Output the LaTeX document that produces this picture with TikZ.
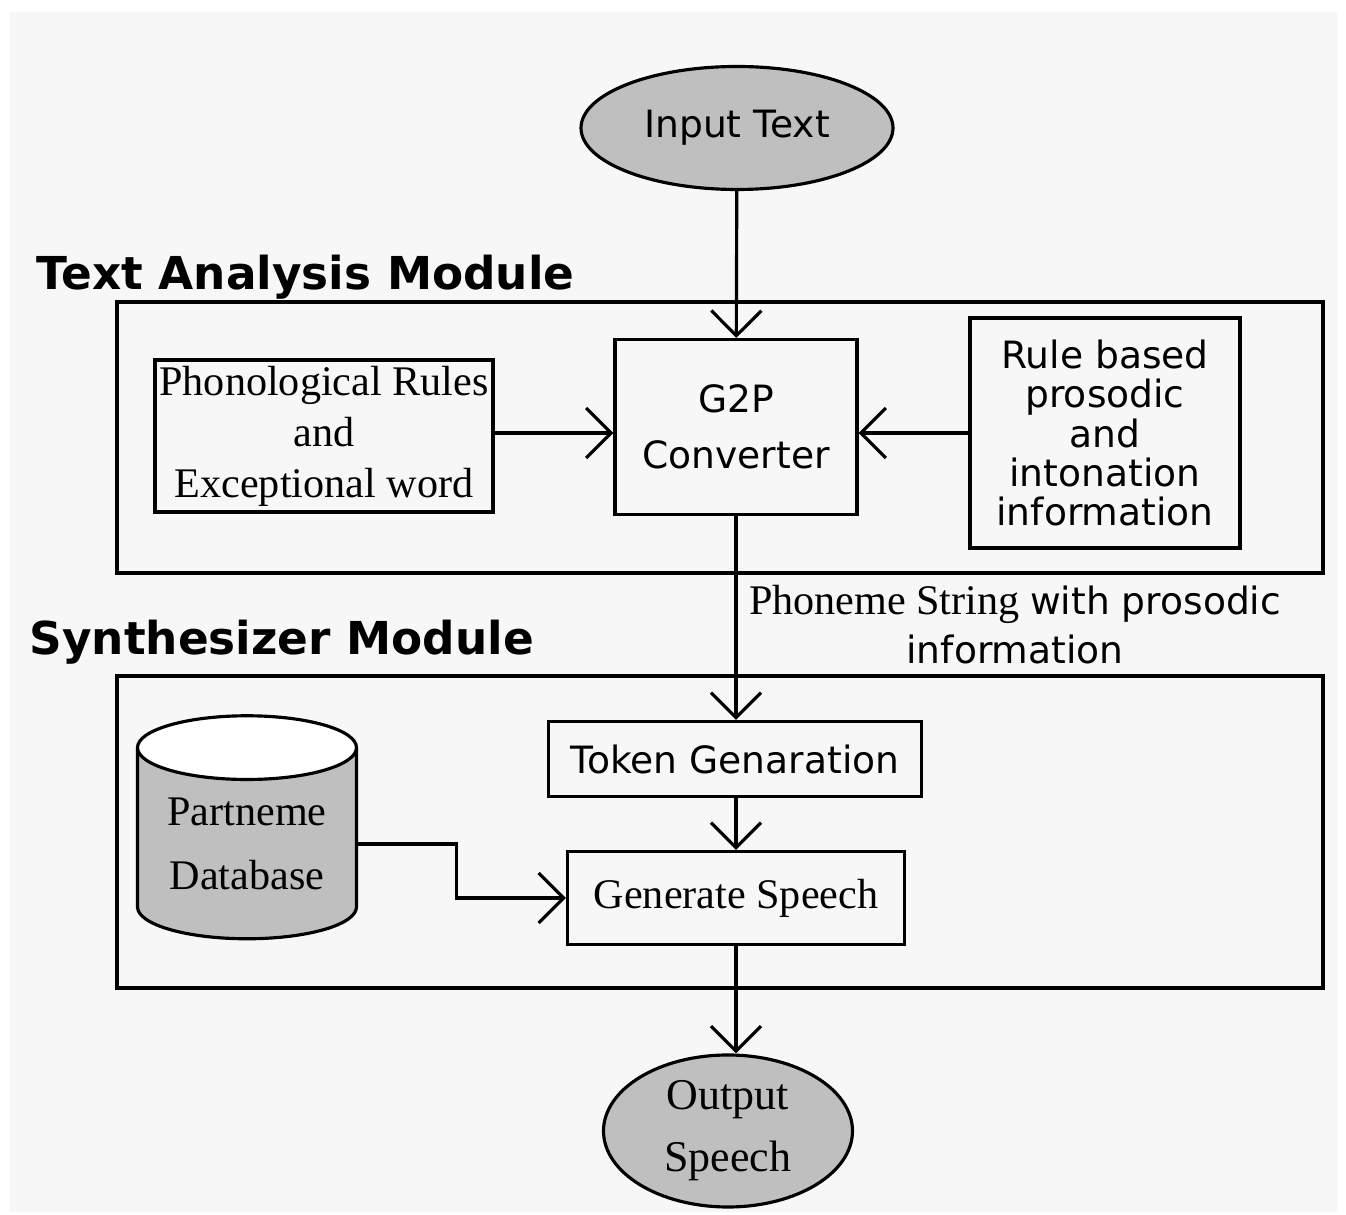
\documentclass[tikz,border=0pt]{standalone}
\usepackage{fontspec}
\setmainfont{Liberation Serif}
\setsansfont{DejaVu Sans}
\usetikzlibrary{arrows.meta,shapes.geometric}
\tikzset{
  blk/.style={draw,align=center,inner sep=0pt},
  sfont/.style={font=\sffamily\fontsize{10.7}{11.2}\selectfont},
  rfont/.style={font=\fontsize{12}{14}\selectfont},
  modlbl/.style={anchor=base west,inner sep=0pt,font=\sffamily\bfseries\fontsize{12.9}{15}\selectfont},
  arr/.style={-{Straight Barb[length=2.5mm,width=5mm]}},
}
\begin{document}
\begin{tikzpicture}[x=0.1mm,y=-0.1mm,line width=0.9pt]
\useasboundingbox (0,0) rectangle (1346,1215);
\fill[white] (0,0) rectangle (1346,1215);
\fill[black!3] (10,12) rectangle (1338,1212);
% module frames
\draw (117,302) rectangle (1323,573);
\draw (117,676) rectangle (1323,988);
\node[modlbl] (tam) at (35,290) {Text Analysis Module};
\node[modlbl] (sm) at (28,655) {Synthesizer Module};
% text analysis
\node[blk,ellipse,fill=black!25,sfont,minimum width=3.12cm,minimum height=1.23cm] (input) at (737,128) {Input Text};
\node[blk,sfont,font=\sffamily\fontsize{10.7}{16}\selectfont,minimum width=2.42cm,minimum height=1.75cm] (g2p) at (736,427) {G2P\\Converter};
\node[blk,font=\fontsize{12}{14.5}\selectfont,minimum width=3.38cm,minimum height=1.52cm] (phon) at (324,436) {Phonological Rules\\and\\Exceptional word};
\node[blk,sfont,minimum width=2.70cm,minimum height=2.30cm] (rule) at (1105,433) {Rule based\\prosodic\\and\\intonation\\information};
\node[align=center,rfont] (pstr) at (1015,625) {Phoneme String {\sffamily\fontsize{10.7}{14}\selectfont with prosodic}\\{\sffamily\fontsize{10.7}{14}\selectfont information}};
% synthesizer
\node[blk,sfont,minimum width=3.73cm,minimum height=0.75cm] (token) at (735,759) {Token Genaration};
\node[blk,rfont,minimum width=3.37cm,minimum height=0.93cm] (gen) at (736,898) {Generate Speech};
\node[draw,cylinder,shape border rotate=90,aspect=0.4,cylinder uses custom fill,cylinder body fill=black!25,cylinder end fill=white,align=center,font=\fontsize{12}{18}\selectfont,minimum width=2.19cm,minimum height=2.23cm,inner sep=0pt] (db) at (247,844) {Partneme\\Database};
\node[blk,ellipse,fill=black!25,font=\fontsize{12.5}{17.6}\selectfont,minimum width=2.49cm,minimum height=1.52cm] (out) at (728,1131) {Output\\Speech};
% connectors
\draw[arr] (input) -- (g2p);
\draw[arr] (phon.east |- rule) -- (rule -| g2p.west);
\draw[arr] (rule) -- (rule -| g2p.east);
\draw[arr] (g2p.south) -- (g2p.south |- token.north);
\draw[arr] (token.south -| gen) -- (gen);
\draw[arr] (db.east) -- ++(98,0) |- (gen.west);
\draw[arr] (gen.south) -- (gen.south |- out.north);
\end{tikzpicture}
\end{document}
